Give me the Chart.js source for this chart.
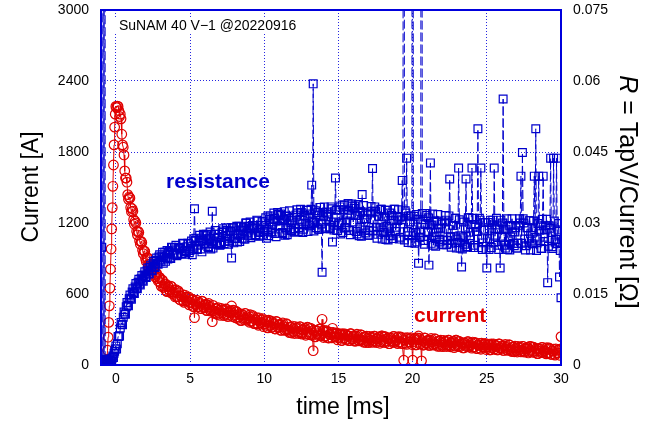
<!DOCTYPE html>
<html>
<head>
<meta charset="utf-8">
<script src="https://cdn.jsdelivr.net/npm/chart.js@4.4.1/dist/chart.umd.min.js"></script>
<style>
  html, body { margin: 0; padding: 0; background: #fff; }
</style>
</head>
<body>
<canvas id="ivChart" width="654" height="424"></canvas>
<script>
// sample times [ms]
const timeMs = [
  -1.0, -0.95, -0.9, -0.85, -0.8, -0.75, -0.7, -0.65,
  -0.6, -0.56, -0.52, -0.48, -0.44, -0.4, -0.36, -0.32, -0.28, -0.24, -0.2, -0.16, -0.12, -0.08, -0.04, 0,
  0.1, 0.2, 0.3, 0.4, 0.5, 0.6, 0.7, 0.8, 0.9, 1.0,
  1.1, 1.2, 1.3, 1.4, 1.5, 1.6, 1.7, 1.8, 1.9, 2.0,
  2.1, 2.2, 2.3, 2.4, 2.5, 2.6, 2.7, 2.8, 2.9, 3.0,
  3.1, 3.2, 3.3, 3.4, 3.5, 3.6, 3.7, 3.8, 3.9, 4.0,
  4.1, 4.2, 4.3, 4.4, 4.5, 4.6, 4.7, 4.8, 4.9, 5.0,
  5.1, 5.2, 5.3, 5.4, 5.5, 5.6, 5.7, 5.8, 5.9, 6.0,
  6.1, 6.2, 6.3, 6.4, 6.5, 6.6, 6.7, 6.8, 6.9, 7.0,
  7.1, 7.2, 7.3, 7.4, 7.5, 7.6, 7.7, 7.8, 7.9, 8.0,
  8.1, 8.2, 8.3, 8.4, 8.5, 8.6, 8.7, 8.8, 8.9, 9.0,
  9.1, 9.2, 9.3, 9.4, 9.5, 9.6, 9.7, 9.8, 9.9, 10.0,
  10.1, 10.2, 10.3, 10.4, 10.5, 10.6, 10.7, 10.8, 10.9, 11.0,
  11.1, 11.2, 11.3, 11.4, 11.5, 11.6, 11.7, 11.8, 11.9, 12.0,
  12.1, 12.2, 12.3, 12.4, 12.5, 12.6, 12.7, 12.8, 12.9, 13.0,
  13.1, 13.2, 13.3, 13.4, 13.5, 13.6, 13.7, 13.8, 13.9, 14.0,
  14.1, 14.2, 14.3, 14.4, 14.5, 14.6, 14.7, 14.8, 14.9, 15.0,
  15.1, 15.2, 15.3, 15.4, 15.5, 15.6, 15.7, 15.8, 15.9, 16.0,
  16.1, 16.2, 16.3, 16.4, 16.5, 16.6, 16.7, 16.8, 16.9, 17.0,
  17.1, 17.2, 17.3, 17.4, 17.5, 17.6, 17.7, 17.8, 17.9, 18.0,
  18.1, 18.2, 18.3, 18.4, 18.5, 18.6, 18.7, 18.8, 18.9, 19.0,
  19.1, 19.2, 19.3, 19.4, 19.5, 19.6, 19.7, 19.8, 19.9, 20.0,
  20.1, 20.2, 20.3, 20.4, 20.5, 20.6, 20.7, 20.8, 20.9, 21.0,
  21.1, 21.2, 21.3, 21.4, 21.5, 21.6, 21.7, 21.8, 21.9, 22.0,
  22.1, 22.2, 22.3, 22.4, 22.5, 22.6, 22.7, 22.8, 22.9, 23.0,
  23.1, 23.2, 23.3, 23.4, 23.5, 23.6, 23.7, 23.8, 23.9, 24.0,
  24.1, 24.2, 24.3, 24.4, 24.5, 24.6, 24.7, 24.8, 24.9, 25.0,
  25.1, 25.2, 25.3, 25.4, 25.5, 25.6, 25.7, 25.8, 25.9, 26.0,
  26.1, 26.2, 26.3, 26.4, 26.5, 26.6, 26.7, 26.8, 26.9, 27.0,
  27.1, 27.2, 27.3, 27.4, 27.5, 27.6, 27.7, 27.8, 27.9, 28.0,
  28.1, 28.2, 28.3, 28.4, 28.5, 28.6, 28.7, 28.8, 28.9, 29.0,
  29.1, 29.2, 29.3, 29.4, 29.5, 29.6, 29.7, 29.8, 29.9, 30.0
];

// current [A]
const currentA = [
  15, 28, 8, 32, 18, 10, 26, 38,
  45, 125, 235, 360, 500, 650, 810, 980, 1150, 1330, 1510, 1690, 1860, 2010, 2120, 2185,
  2188, 2150, 2120, 1950, 1840, 1640, 1580, 1440, 1420, 1330,
  1320, 1230, 1215, 1130, 1130, 1050, 1045, 970, 965, 900,
  905, 850, 855, 805, 815, 765, 775, 730, 740, 695,
  720, 655, 680, 625, 670, 636, 667, 603, 619, 575,
  578, 626, 554, 582, 595, 529, 573, 542, 576, 525,
  550, 495, 400, 510, 491, 532, 478, 539, 495, 506,
  462, 508, 489, 455, 366, 457, 433, 474, 485, 436,
  478, 440, 417, 474, 421, 448, 455, 499, 464, 421,
  452, 394, 426, 377, 429, 400, 437, 378, 400, 361,
  368, 420, 352, 383, 400, 336, 383, 354, 391, 342,
  369, 316, 378, 335, 317, 359, 306, 368, 325, 337,
  294, 342, 324, 292, 349, 297, 274, 317, 329, 282,
  325, 288, 266, 324, 272, 300, 308, 251, 319, 277,
  310, 253, 121, 239, 292, 265, 303, 246, 386, 232,
  242, 290, 229, 258, 275, 310, 262, 237, 271, 229,
  254, 207, 265, 228, 213, 252, 206, 264, 226, 239,
  202, 246, 232, 204, 257, 211, 192, 231, 244, 202,
  242, 210, 191, 244, 199, 225, 233, 184, 246, 209,
  240, 190, 221, 180, 229, 206, 242, 191, 213, 181,
  190, 238, 180, 40, 228, 174, 219, 195, 231, 40,
  216, 170, 228, 245, 176, 35, 169, 228, 190, 203,
  166, 210, 196, 168, 222, 176, 157, 197, 210, 168,
  207, 175, 156, 209, 163, 189, 197, 146, 209, 172,
  199, 154, 181, 144, 187, 166, 197, 152, 171, 142,
  149, 192, 139, 167, 182, 133, 172, 152, 183, 146,
  169, 128, 179, 146, 133, 168, 127, 178, 145, 156,
  123, 162, 149, 124, 171, 130, 113, 148, 159, 122,
  157, 128, 111, 158, 117, 140, 147, 102, 157, 124,
  151, 106, 133, 96, 139, 118, 149, 104, 123, 94,
  101, 144, 91, 118, 133, 84, 123, 102, 133, 240
];

// R = TapV/Current [ohm]
const resistanceOhm = [
  0.9, 0.0249, -0.5, 0.8, 0.0008, 0.7, -0.4, 0.0012,
  0.0006, 0.0010, 0.0004, 0.0008, 0.0011, 0.0005, 0.0009, 0.0013, 0.0008, 0.0015, 0.0019, 0.0016, 0.0025, 0.0029, 0.0034, 0.0040,
  0.0045, 0.0060, 0.0078, 0.0086, 0.0101, 0.0108, 0.0123, 0.0126, 0.0140, 0.0141,
  0.0154, 0.0153, 0.0165, 0.0163, 0.0175, 0.0171, 0.0182, 0.0179, 0.0190, 0.0187,
  0.0199, 0.0194, 0.0206, 0.0201, 0.0214, 0.0208, 0.0221, 0.0215, 0.0228, 0.0222,
  0.0230, 0.0215, 0.0238, 0.0227, 0.0224, 0.0240, 0.0225, 0.0248, 0.0236, 0.0243,
  0.0231, 0.0249, 0.0245, 0.0236, 0.0257, 0.0241, 0.0234, 0.0250, 0.0256, 0.0242,
  0.0262, 0.0246, 0.0330, 0.0268, 0.0244, 0.0260, 0.0266, 0.0239, 0.0276, 0.0256,
  0.0276, 0.0250, 0.0268, 0.0245, 0.0325, 0.0262, 0.0284, 0.0256, 0.0270, 0.0253,
  0.0259, 0.0288, 0.0256, 0.0274, 0.0284, 0.0255, 0.0282, 0.0226, 0.0290, 0.0268,
  0.0285, 0.0260, 0.0293, 0.0274, 0.0268, 0.0290, 0.0266, 0.0300, 0.0279, 0.0288,
  0.0269, 0.0295, 0.0289, 0.0275, 0.0306, 0.0281, 0.0272, 0.0295, 0.0303, 0.0282,
  0.0311, 0.0286, 0.0273, 0.0315, 0.0281, 0.0302, 0.0310, 0.0271, 0.0322, 0.0293,
  0.0319, 0.0280, 0.0306, 0.0274, 0.0314, 0.0296, 0.0326, 0.0287, 0.0306, 0.0281,
  0.0288, 0.0328, 0.0282, 0.0308, 0.0322, 0.0280, 0.0316, 0.0299, 0.0327, 0.0296,
  0.0319, 0.0380, 0.0594, 0.0301, 0.0290, 0.0322, 0.0287, 0.0333, 0.0196, 0.0315,
  0.0288, 0.0323, 0.0313, 0.0291, 0.0334, 0.0260, 0.0285, 0.0395, 0.0328, 0.0296,
  0.0334, 0.0300, 0.0280, 0.0338, 0.0290, 0.0318, 0.0327, 0.0275, 0.0340, 0.0302,
  0.0336, 0.0282, 0.0316, 0.0273, 0.0324, 0.0360, 0.0337, 0.0285, 0.0309, 0.0274,
  0.0284, 0.0335, 0.0415, 0.0307, 0.0325, 0.0268, 0.0314, 0.0290, 0.0329, 0.0285,
  0.0313, 0.0265, 0.0327, 0.0288, 0.0273, 0.0316, 0.0267, 0.0329, 0.0291, 0.0305,
  0.0266, 0.0313, 0.0390, 0.30, 0.0326, 0.0437, 0.0259, 0.0302, 0.0315, 0.30,
  0.0314, 0.0280, 0.0260, 0.0215, 0.0270, 0.30, 0.0307, 0.0255, 0.0320, 0.0282,
  0.0211, 0.0427, 0.0296, 0.0253, 0.0304, 0.0280, 0.0318, 0.0265, 0.0289, 0.0255,
  0.0264, 0.0316, 0.0254, 0.0287, 0.0393, 0.0249, 0.0295, 0.0271, 0.0310, 0.0266,
  0.0416, 0.0247, 0.0207, 0.0269, 0.0255, 0.0393, 0.0250, 0.0311, 0.0273, 0.0416,
  0.0248, 0.0297, 0.0282, 0.0499, 0.0310, 0.0416, 0.0244, 0.0287, 0.0301, 0.0205,
  0.0301, 0.0267, 0.0248, 0.0306, 0.0416, 0.0287, 0.0296, 0.0244, 0.0205, 0.0272,
  0.0562, 0.0253, 0.0287, 0.0244, 0.0295, 0.0271, 0.0309, 0.0257, 0.0281, 0.0247,
  0.0257, 0.0309, 0.0399, 0.0449, 0.0300, 0.0243, 0.0290, 0.0266, 0.0305, 0.0262,
  0.0290, 0.0399, 0.0499, 0.0266, 0.0399, 0.0294, 0.0246, 0.0399, 0.0270, 0.0285,
  0.0174, 0.0294, 0.0437, 0.0250, 0.0437, 0.0260, 0.0437, 0.0285, 0.0186, 0.0142
];

// in-between samples [ms]
const timeMsMid = [
  0.05, 0.15, 0.25, 0.35, 0.45, 0.55, 0.65, 0.75, 0.85, 0.95,
  1.05, 1.15, 1.25, 1.35, 1.45, 1.55, 1.65, 1.75, 1.85, 1.95,
  2.05, 2.15, 2.25, 2.35, 2.45, 2.55, 2.65, 2.75, 2.85, 2.95,
  3.05, 3.15, 3.25, 3.35, 3.45, 3.55, 3.65, 3.75, 3.85, 3.95,
  4.05, 4.15, 4.25, 4.35, 4.45, 4.55, 4.65, 4.75, 4.85, 4.95,
  5.05, 5.15, 5.25, 5.35, 5.45, 5.55, 5.65, 5.75, 5.85, 5.95,
  6.05, 6.15, 6.25, 6.35, 6.45, 6.55, 6.65, 6.75, 6.85, 6.95,
  7.05, 7.15, 7.25, 7.35, 7.45, 7.55, 7.65, 7.75, 7.85, 7.95,
  8.05, 8.15, 8.25, 8.35, 8.45, 8.55, 8.65, 8.75, 8.85, 8.95,
  9.05, 9.15, 9.25, 9.35, 9.45, 9.55, 9.65, 9.75, 9.85, 9.95,
  10.05, 10.15, 10.25, 10.35, 10.45, 10.55, 10.65, 10.75, 10.85, 10.95,
  11.05, 11.15, 11.25, 11.35, 11.45, 11.55, 11.65, 11.75, 11.85, 11.95,
  12.05, 12.15, 12.25, 12.35, 12.45, 12.55, 12.65, 12.75, 12.85, 12.95,
  13.05, 13.15, 13.25, 13.35, 13.45, 13.55, 13.65, 13.75, 13.85, 13.95,
  14.05, 14.15, 14.25, 14.35, 14.45, 14.55, 14.65, 14.75, 14.85, 14.95,
  15.05, 15.15, 15.25, 15.35, 15.45, 15.55, 15.65, 15.75, 15.85, 15.95,
  16.05, 16.15, 16.25, 16.35, 16.45, 16.55, 16.65, 16.75, 16.85, 16.95,
  17.05, 17.15, 17.25, 17.35, 17.45, 17.55, 17.65, 17.75, 17.85, 17.95,
  18.05, 18.15, 18.25, 18.35, 18.45, 18.55, 18.65, 18.75, 18.85, 18.95,
  19.05, 19.15, 19.25, 19.35, 19.45, 19.55, 19.65, 19.75, 19.85, 19.95,
  20.05, 20.15, 20.25, 20.35, 20.45, 20.55, 20.65, 20.75, 20.85, 20.95,
  21.05, 21.15, 21.25, 21.35, 21.45, 21.55, 21.65, 21.75, 21.85, 21.95,
  22.05, 22.15, 22.25, 22.35, 22.45, 22.55, 22.65, 22.75, 22.85, 22.95,
  23.05, 23.15, 23.25, 23.35, 23.45, 23.55, 23.65, 23.75, 23.85, 23.95,
  24.05, 24.15, 24.25, 24.35, 24.45, 24.55, 24.65, 24.75, 24.85, 24.95,
  25.05, 25.15, 25.25, 25.35, 25.45, 25.55, 25.65, 25.75, 25.85, 25.95,
  26.05, 26.15, 26.25, 26.35, 26.45, 26.55, 26.65, 26.75, 26.85, 26.95,
  27.05, 27.15, 27.25, 27.35, 27.45, 27.55, 27.65, 27.75, 27.85, 27.95,
  28.05, 28.15, 28.25, 28.35, 28.45, 28.55, 28.65, 28.75, 28.85, 28.95,
  29.05, 29.15, 29.25, 29.35, 29.45, 29.55, 29.65, 29.75, 29.85, 29.95
];

const currentAMid = [
  2175, 2185, 2100, 2080, 1860, 1775, 1580, 1545, 1400, 1410,
  1295, 1300, 1190, 1200, 1100, 1120, 1020, 1035, 940, 960,
  875, 905, 825, 855, 780, 815, 745, 775, 710, 740,
  667, 715, 665, 685, 620, 660, 616, 662, 613, 634,
  636, 579, 612, 550, 578, 542, 591, 545, 569, 508,
  532, 557, 492, 537, 548, 494, 520, 476, 537, 483,
  514, 460, 521, 462, 468, 504, 445, 481, 427, 463,
  419, 461, 468, 430, 472, 409, 441, 458, 410, 462,
  399, 450, 407, 434, 375, 422, 383, 435, 391, 418,
  425, 371, 408, 350, 381, 348, 399, 356, 382, 324,
  350, 377, 314, 361, 373, 320, 347, 304, 366, 313,
  345, 293, 355, 298, 305, 343, 285, 323, 270, 308,
  266, 309, 317, 280, 323, 261, 294, 312, 265, 318,
  256, 309, 267, 295, 238, 286, 249, 302, 260, 288,
  293, 245, 280, 228, 258, 229, 276, 238, 263, 212,
  237, 263, 207, 252, 263, 217, 243, 206, 264, 217,
  248, 202, 260, 209, 217, 252, 201, 237, 190, 226,
  189, 228, 237, 205, 244, 190, 221, 238, 197, 246,
  191, 240, 203, 230, 180, 225, 192, 242, 205, 232,
  240, 194, 230, 180, 211, 184, 232, 196, 222, 173,
  198, 225, 170, 214, 226, 180, 206, 169, 227, 181,
  212, 166, 224, 174, 182, 217, 167, 203, 157, 192,
  155, 194, 202, 170, 209, 154, 185, 202, 160, 209,
  156, 199, 166, 189, 144, 183, 154, 197, 164, 187,
  194, 153, 184, 139, 167, 142, 185, 152, 176, 131,
  154, 177, 128, 167, 178, 137, 160, 127, 178, 137,
  164, 123, 174, 129, 136, 167, 122, 153, 112, 143,
  110, 145, 152, 123, 158, 109, 136, 151, 114, 157,
  108, 151, 118, 141, 96, 135, 106, 149, 116, 139,
  146, 105, 136, 91, 118, 93, 136, 103, 126, 81
];

const resistanceOhmMid = [
  0.0034, 0.0060, 0.0061, 0.0090, 0.0085, 0.0112, 0.0107, 0.0132, 0.0125, 0.0148,
  0.0139, 0.0161, 0.0151, 0.0172, 0.0161, 0.0181, 0.0169, 0.0189, 0.0177, 0.0197,
  0.0185, 0.0205, 0.0192, 0.0211, 0.0199, 0.0219, 0.0206, 0.0226, 0.0213, 0.0233,
  0.0219, 0.0238, 0.0227, 0.0219, 0.0242, 0.0238, 0.0226, 0.0249, 0.0234, 0.0248,
  0.0253, 0.0233, 0.0248, 0.0246, 0.0235, 0.0256, 0.0242, 0.0240, 0.0257, 0.0237,
  0.0245, 0.0233, 0.0267, 0.0263, 0.0244, 0.0253, 0.0274, 0.0245, 0.0263, 0.0274,
  0.0273, 0.0267, 0.0248, 0.0281, 0.0256, 0.0247, 0.0276, 0.0268, 0.0255, 0.0276,
  0.0254, 0.0280, 0.0283, 0.0261, 0.0290, 0.0268, 0.0262, 0.0282, 0.0290, 0.0258,
  0.0267, 0.0293, 0.0276, 0.0261, 0.0292, 0.0285, 0.0266, 0.0300, 0.0274, 0.0293,
  0.0302, 0.0273, 0.0294, 0.0289, 0.0273, 0.0304, 0.0285, 0.0280, 0.0303, 0.0274,
  0.0286, 0.0268, 0.0315, 0.0308, 0.0281, 0.0291, 0.0321, 0.0278, 0.0304, 0.0318,
  0.0316, 0.0305, 0.0278, 0.0324, 0.0290, 0.0275, 0.0315, 0.0305, 0.0284, 0.0312,
  0.0281, 0.0317, 0.0321, 0.0290, 0.0329, 0.0298, 0.0287, 0.0316, 0.0327, 0.0282,
  0.0294, 0.0329, 0.0304, 0.0283, 0.0326, 0.0315, 0.0287, 0.0333, 0.0298, 0.0322,
  0.0334, 0.0291, 0.0319, 0.0313, 0.0288, 0.0330, 0.0302, 0.0295, 0.0327, 0.0284,
  0.0300, 0.0277, 0.0338, 0.0328, 0.0290, 0.0304, 0.0341, 0.0284, 0.0317, 0.0336,
  0.0331, 0.0316, 0.0277, 0.0339, 0.0291, 0.0272, 0.0323, 0.0309, 0.0279, 0.0317,
  0.0274, 0.0321, 0.0325, 0.0283, 0.0334, 0.0291, 0.0276, 0.0314, 0.0329, 0.0266,
  0.0280, 0.0327, 0.0293, 0.0264, 0.0321, 0.0306, 0.0267, 0.0329, 0.0282, 0.0314,
  0.0328, 0.0270, 0.0307, 0.0298, 0.0264, 0.0321, 0.0282, 0.0273, 0.0315, 0.0258,
  0.0280, 0.0257, 0.0318, 0.0308, 0.0270, 0.0283, 0.0320, 0.0263, 0.0297, 0.0316,
  0.0311, 0.0296, 0.0257, 0.0319, 0.0271, 0.0251, 0.0304, 0.0289, 0.0260, 0.0298,
  0.0254, 0.0302, 0.0306, 0.0263, 0.0315, 0.0271, 0.0257, 0.0295, 0.0310, 0.0247,
  0.0259, 0.0307, 0.0273, 0.0245, 0.0302, 0.0288, 0.0249, 0.0311, 0.0264, 0.0297,
  0.0310, 0.0253, 0.0291, 0.0282, 0.0248, 0.0306, 0.0267, 0.0258, 0.0301, 0.0244,
  0.0267, 0.0244, 0.0306, 0.0296, 0.0258, 0.0272, 0.0310, 0.0253, 0.0287, 0.0306,
  0.0300, 0.0286, 0.0247, 0.0309, 0.0262, 0.0243, 0.0295, 0.0281, 0.0252, 0.0290,
  0.0247, 0.0295, 0.0300, 0.0257, 0.0309, 0.0266, 0.0252, 0.0290, 0.0305, 0.0243,
  0.0256, 0.0304, 0.0270, 0.0242, 0.0299, 0.0285, 0.0246, 0.0308, 0.0261, 0.0294,
  0.0308, 0.0251, 0.0289, 0.0280, 0.0246, 0.0304, 0.0265, 0.0256, 0.0299, 0.0242
];

const xTicks = [0, 5, 10, 15, 20, 25, 30];
const currentTicks = [0, 600, 1200, 1800, 2400, 3000];
const resistanceTicks = [0, 0.015, 0.03, 0.045, 0.06, 0.075];

const RED = '#e00000';
const BLUE = '#0000cc';
const GRID = 'rgba(0, 0, 220, 0.85)';
const FONT = "'Liberation Sans', Arial, sans-serif";

Chart.defaults.font.family = FONT;

// merge both sample sets in time order
const samples = timeMs.map((t, k) => ({ t, cur: currentA[k], res: resistanceOhm[k] }))
  .concat(timeMsMid.map((t, k) => ({ t, cur: currentAMid[k], res: resistanceOhmMid[k] })))
  .sort((a, b) => a.t - b.t);

// axis titles, labels and the frame, drawn on top of the plot
const decorations = {
  id: 'decorations',
  afterDatasetsDraw(chart) {
    const { ctx, chartArea: a } = chart;
    ctx.save();

    ctx.strokeStyle = '#0000dd';
    ctx.lineWidth = 2;
    ctx.strokeRect(a.left, a.top, a.right - a.left, a.bottom - a.top);

    // run label with white box behind it
    ctx.fillStyle = '#fff';
    ctx.fillRect(a.left + 12, a.top + 7, 192, 17);
    ctx.fillStyle = '#000';
    ctx.font = '14px ' + FONT;
    ctx.textBaseline = 'middle';
    ctx.textAlign = 'left';
    ctx.fillText('SuNAM 40 V\u22121 @20220916', a.left + 18, a.top + 16);

    ctx.font = 'bold 21px ' + FONT;
    ctx.textBaseline = 'alphabetic';
    ctx.fillStyle = BLUE;
    ctx.fillText('resistance', 166, 188);
    ctx.fillStyle = RED;
    ctx.fillText('current', 414, 322);

    ctx.fillStyle = '#000';
    ctx.font = '23px ' + FONT;
    ctx.textAlign = 'center';
    ctx.textBaseline = 'middle';
    ctx.fillText('time [ms]', 343, 408);

    ctx.save();
    ctx.translate(32, 187);
    ctx.rotate(-Math.PI / 2);
    ctx.fillText('Current [A]', 0, 0);
    ctx.restore();

    ctx.save();
    ctx.translate(627, 192);
    ctx.rotate(Math.PI / 2);
    ctx.textAlign = 'left';
    ctx.font = 'italic 25px ' + FONT;
    const wR = ctx.measureText('R').width;
    const rest = ' = TapV/Current [\u03a9]';
    ctx.font = '25px ' + FONT;
    const wRest = ctx.measureText(rest).width;
    const x0 = -(wR + wRest) / 2;
    ctx.font = 'italic 25px ' + FONT;
    ctx.fillText('R', x0, 0);
    ctx.font = '25px ' + FONT;
    ctx.fillText(rest, x0 + wR, 0);
    ctx.restore();

    ctx.restore();
  }
};

const fixPadding = s => { s.paddingTop = 10; s.paddingBottom = 0; };

new Chart(document.getElementById('ivChart'), {
  type: 'scatter',
  data: {
    datasets: [
      {
        label: 'resistance',
        data: samples.map(p => ({ x: p.t, y: p.res })),
        yAxisID: 'yR',
        showLine: true,
        borderColor: BLUE,
        borderWidth: 1,
        borderDash: [9, 3],
        pointStyle: 'rect',
        pointRadius: 5.5,
        pointBorderWidth: 1.2,
        pointBorderColor: BLUE,
        pointBackgroundColor: 'rgba(0,0,0,0)'
      },
      {
        label: 'current',
        data: samples.map(p => ({ x: p.t, y: p.cur })),
        yAxisID: 'yI',
        showLine: true,
        borderColor: RED,
        borderWidth: 1,
        pointStyle: 'circle',
        pointRadius: 4.8,
        pointBorderWidth: 1.2,
        pointBorderColor: RED,
        pointBackgroundColor: 'rgba(0,0,0,0)'
      }
    ]
  },
  options: {
    responsive: false,
    animation: false,
    layout: { padding: 0 },
    plugins: { legend: { display: false }, tooltip: { enabled: false } },
    scales: {
      x: {
        type: 'linear',
        min: -1,
        max: 30,
        afterBuildTicks: s => { s.ticks = xTicks.map(v => ({ value: v })); },
        afterFit: s => { s.height = 59; },
        ticks: { color: '#000', font: { size: 14 }, padding: 6, maxRotation: 0, callback: v => String(v) },
        grid: { color: GRID, lineWidth: 1, drawTicks: false },
        border: { display: false, dash: [1, 2] }
      },
      yI: {
        type: 'linear',
        position: 'left',
        min: 0,
        max: 3000,
        afterBuildTicks: s => { s.ticks = currentTicks.map(v => ({ value: v })); },
        afterFit: s => { s.width = 101; fixPadding(s); },
        ticks: { color: '#000', font: { size: 14 }, padding: 12, callback: v => String(v) },
        grid: { color: GRID, lineWidth: 1, drawTicks: false },
        border: { display: false, dash: [1, 2] }
      },
      yR: {
        type: 'linear',
        position: 'right',
        min: 0,
        max: 0.075,
        afterBuildTicks: s => { s.ticks = resistanceTicks.map(v => ({ value: v })); },
        afterFit: s => { s.width = 93; fixPadding(s); },
        ticks: { color: '#000', font: { size: 14 }, padding: 12, callback: v => String(v) },
        grid: { display: false, drawTicks: false },
        border: { display: false }
      }
    }
  },
  plugins: [decorations]
});
</script>
</body>
</html>
